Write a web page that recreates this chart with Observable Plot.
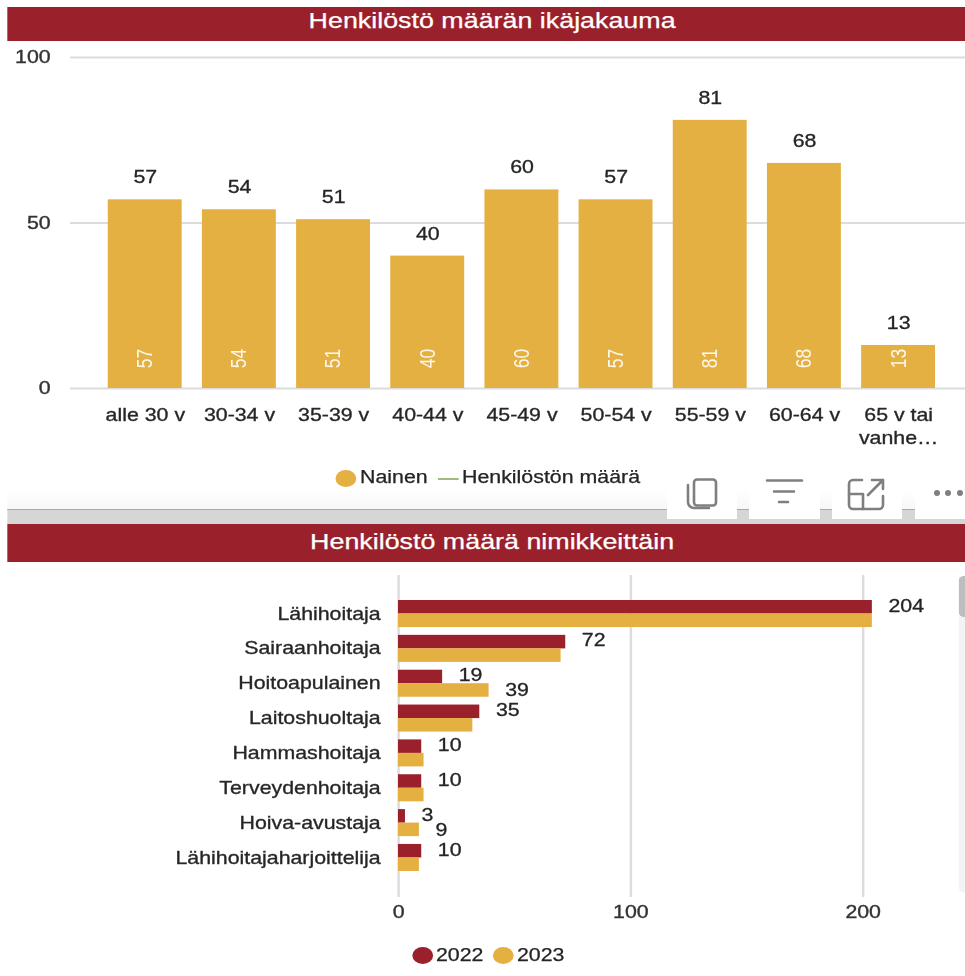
<!DOCTYPE html>
<html lang="fi">
<head>
<meta charset="utf-8">
<title>Henkilöstö</title>
<script src="https://cdn.jsdelivr.net/npm/d3@7"></script>
<script src="https://cdn.jsdelivr.net/npm/@observablehq/plot@0.6"></script>
<style>
  html, body { margin: 0; padding: 0; background: #fff; overflow: hidden; }
  body { width: 965px; height: 976px; position: relative; font-family: "Liberation Sans", Arial, sans-serif; color: #252423; }
  /* The whole report is drawn wider than tall, so its content lives in a horizontally scaled sheet. */
  #sheet { position: absolute; left: 0; top: 0; height: 976px; transform-origin: 0 0; }
  #sheet > * { position: absolute; }
  .banner { background: #9a212b; color: #fff; text-align: center; font-size: 22px; height: 33.5px; box-sizing: border-box; padding-left: 10px; -webkit-text-stroke: 0.25px #fff; }
  .legend { font-size: 17.5px; line-height: 20px; white-space: nowrap; -webkit-text-stroke: 0.25px #252423; }
  .swatch { border-radius: 50%; width: 17px; height: 17px; }
  .chrome { position: absolute; }
  /* Slightly heavier tick labels */
  #sheet [aria-label$="tick label"] { stroke: #333; stroke-width: 0.35px; }
</style>
</head>
<body>
<div id="sheet"></div>
<script>
// Age distribution
const ageGroups = ["alle 30 v", "30-34 v", "35-39 v", "40-44 v", "45-49 v", "50-54 v", "55-59 v", "60-64 v", "65 v tai\nvanhe…"];
const ageCounts = [57, 54, 51, 40, 60, 57, 81, 68, 13];
const ageTicks = [0, 50, 100];

// Staff by job title
const titles = ["Lähihoitaja", "Sairaanhoitaja", "Hoitoapulainen", "Laitoshuoltaja", "Hammashoitaja", "Terveydenhoitaja", "Hoiva-avustaja", "Lähihoitajaharjoittelija"];
const staff2022 = [204, 72, 19, 35, 10, 10, 3, 10];
const staff2023 = [204, 70, 39, 32, 11, 11, 9, 9];
const labelled2023 = ["Hoitoapulainen", "Hoiva-avustaja"];
const titleTicks = [0, 100, 200];

const red = "#9a212b", gold = "#e5b042", gridGrey = "#dcdcdc", tickInk = "#333", ink = "#252423";
const fontStack = "'Liberation Sans', Arial, sans-serif";

const stretch = 1.22;
const sx = (px) => px / stretch;
const sheetWidth = sx(965);
const sheet = document.getElementById("sheet");
sheet.style.width = sheetWidth + "px";
sheet.style.transform = `scaleX(${stretch})`;

function place(tag, className, x, y, w, h, text) {
  const el = document.createElement(tag);
  el.className = className;
  el.style.left = sx(x) + "px";
  el.style.top = y + "px";
  if (w != null) el.style.width = sx(w) + "px";
  if (h != null) el.style.height = h + "px";
  if (text != null) el.textContent = text;
  sheet.appendChild(el);
  return el;
}

const plotStyle = { fontFamily: fontStack, fontSize: "17.5px", color: ink, background: "transparent" };
const valueInk = { fill: ink, stroke: ink, strokeWidth: 0.3 };

// Column chart
const ageRows = ageGroups.map((group, i) => ({ group, count: ageCounts[i] }));
const agePlot = Plot.plot({
  width: sheetWidth,
  height: 415,
  marginLeft: sx(70),
  marginRight: 0,
  marginTop: 16,
  marginBottom: 68,
  style: plotStyle,
  x: { type: "band", domain: ageGroups, range: [sx(87.5), sx(955.3)], padding: 0.215, round: false, label: null },
  y: { domain: [0, 100], label: null },
  marks: [
    Plot.ruleY(ageTicks, { stroke: gridGrey, strokeWidth: 2 }),
    Plot.barY(ageRows, { x: "group", y: "count", fill: gold }),
    Plot.text(ageRows, { x: "group", y: "count", text: (d) => String(d.count), dy: -22, ...valueInk }),
    Plot.text(ageRows, { x: "group", y: () => 0, text: (d) => String(d.count), rotate: -90, dy: -30, fill: "#fff", fillOpacity: 0.9 }),
    Plot.axisX({ tickSize: 0, tickPadding: 15, label: null, fill: ink, lineHeight: 1.37 }),
    Plot.axisY({ ticks: ageTicks, tickSize: 0, tickPadding: sx(20), label: null, fill: tickInk })
  ]
});

// Grouped bars, one band per title with the two years sharing it
const barHeight = 13.5;
const titleRows = titles.map((title, i) => ({ title, y2022: staff2022[i], y2023: staff2023[i] }));
const titlePlot = Plot.plot({
  width: sheetWidth,
  height: 365,
  marginLeft: sx(398),
  marginRight: 0,
  marginTop: 0,
  marginBottom: 43,
  style: plotStyle,
  x: { domain: [0, 200], range: [sx(398), sx(862.6)], label: null },
  y: { type: "band", domain: titles, range: [17.2, 303.8], padding: 0.224, round: false, label: null },
  marks: [
    Plot.ruleX(titleTicks, { stroke: gridGrey, strokeWidth: 2 }),
    Plot.barX(titleRows, { x: "y2022", y: "title", fill: red, insetBottom: barHeight }),
    Plot.barX(titleRows, { x: "y2023", y: "title", fill: gold, insetTop: barHeight }),
    Plot.text(titleRows, { x: "y2022", y: "title", text: (d) => String(d.y2022), textAnchor: "start", dx: sx(16), dy: -8, ...valueInk }),
    Plot.text(titleRows.filter((d) => labelled2023.includes(d.title)), { x: "y2023", y: "title", text: (d) => String(d.y2023), textAnchor: "start", dx: sx(16), dy: 7, ...valueInk }),
    Plot.axisY({ tickSize: 0, tickPadding: sx(18), label: null, fill: ink, marginLeft: sx(398) }),
    Plot.axisX({ ticks: titleTicks, tickSize: 0, tickPadding: 8, label: null, fill: tickInk })
  ]
});

// Report layout
place("div", "banner", 7, 7, 958, null, "Henkilöstö määrän ikäjakauma").style.lineHeight = "27px";
agePlot.style.left = "0px"; agePlot.style.top = "41px";
sheet.appendChild(agePlot);

place("div", "swatch", 336, 470).style.background = gold;
place("div", "legend", 360, 467, null, null, "Nainen");
place("div", "", 438.5, 477.5, 20.5, 2).style.background = "#9fbc7a";
place("div", "legend", 462, 467, null, null, "Henkilöstön määrä");

// Divider between the two visuals, with a soft shadow above it
const fade = place("div", "", 7, 490, 958, 19);
fade.style.background = "linear-gradient(#ffffff, #f7f7f7)";
const divider = place("div", "", 7, 509, 958, 15);
divider.style.background = "#d6d6d6";
divider.style.borderTop = "1px solid #aaa";
divider.style.boxSizing = "border-box";

place("div", "banner", 7, 524, 958, 37.5, "Henkilöstö määrä nimikkeittäin").style.lineHeight = "36px";
titlePlot.style.left = "0px"; titlePlot.style.top = "575px";
sheet.appendChild(titlePlot);

place("div", "swatch", 412, 947).style.background = red;
place("div", "legend", 436, 945, null, null, "2022");
place("div", "swatch", 493, 947).style.background = gold;
place("div", "legend", 517, 945, null, null, "2023");

// Scrollbar of the lower visual
const track = place("div", "", 958.5, 617, 6.5, 276);
track.style.background = "#f3f3f3";
track.style.borderBottomLeftRadius = "5px";
const thumb = place("div", "", 958.5, 576, 6.5, 41);
thumb.style.background = "#bdbdbd";
thumb.style.borderTopLeftRadius = "4px";
thumb.style.borderBottomLeftRadius = "4px";

// Visual header buttons
const icons = document.createElementNS("http://www.w3.org/2000/svg", "svg");
icons.setAttribute("class", "chrome");
icons.setAttribute("width", 965);
icons.setAttribute("height", 976);
icons.style.left = "0"; icons.style.top = "0";
icons.innerHTML = `
  <g fill="#fff">
    <rect x="667" y="478" width="70" height="41"/><rect x="749" y="478" width="71" height="41"/>
    <rect x="832" y="478" width="70" height="41"/><rect x="915" y="478" width="50" height="41"/>
  </g>
  <g fill="none" stroke="#7f7f7f" stroke-width="2.6" stroke-linecap="round" stroke-linejoin="round">
    <rect x="694" y="479.5" width="22" height="26" rx="3"/>
    <path d="M688 485v17a6 6 0 0 0 6 6h15"/>
    <path d="M767 480.5h35M774 491.5h20M779 502h9"/>
    <path d="M862 480h-9a4 4 0 0 0-4 4v21a4 4 0 0 0 4 4h26a4 4 0 0 0 4-4v-9"/>
    <path d="M849 494h14v15"/>
    <path d="M868 495l15-15M872 480h11v9"/>
  </g>
  <g fill="#7f7f7f"><circle cx="937" cy="493" r="3"/><circle cx="948" cy="493" r="3"/><circle cx="960" cy="493" r="3"/></g>`;
document.body.appendChild(icons);
</script>
</body>
</html>
